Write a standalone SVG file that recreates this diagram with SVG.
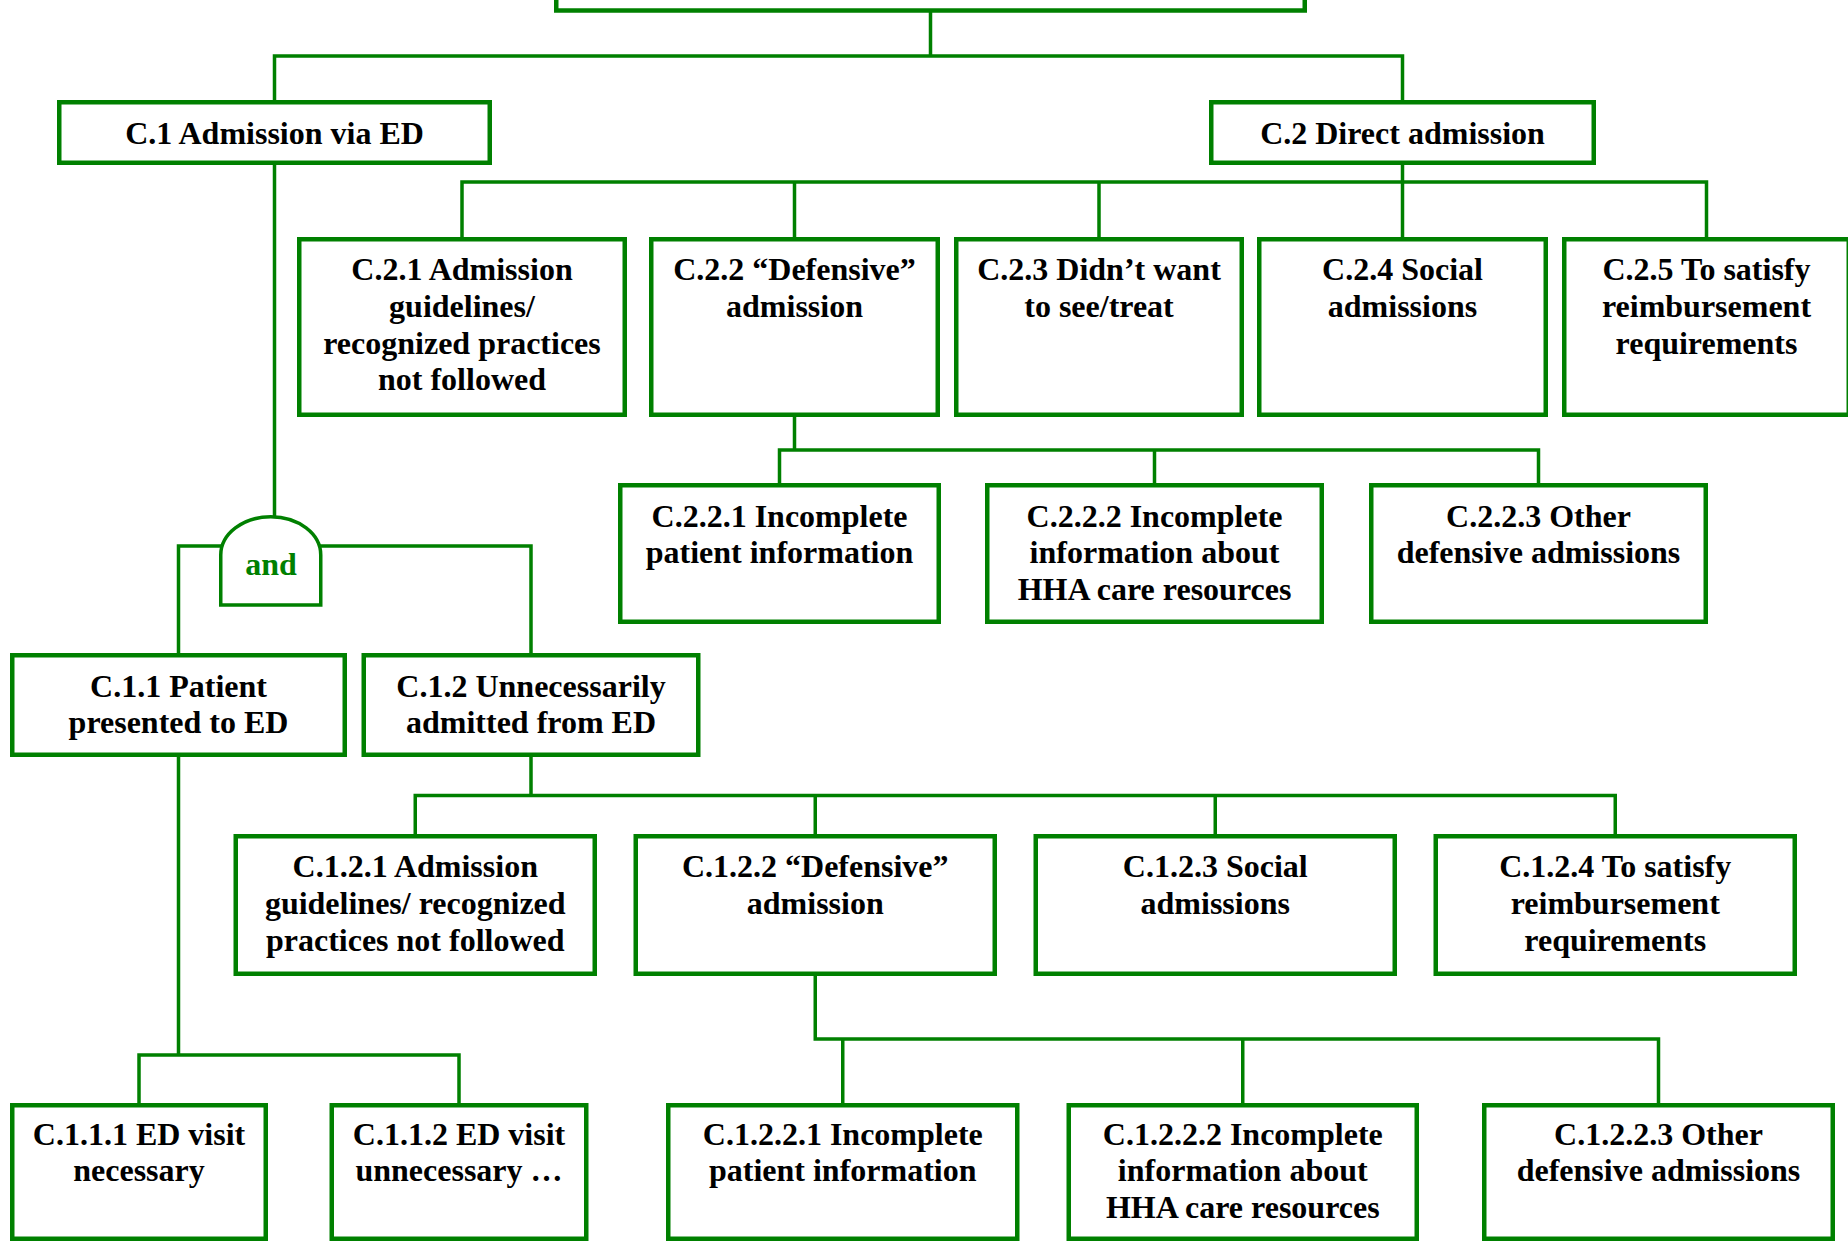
<svg xmlns="http://www.w3.org/2000/svg" width="1848" height="1241" viewBox="0 0 1848 1241">
  <style>
    .box { fill: #ffffff; stroke: #008000; stroke-width: 4.5; }
    .wire { fill: none; stroke: #008000; stroke-width: 3.5; }
    .gate { fill: #ffffff; stroke: #008000; stroke-width: 3.5; }
    text { font-family: "Liberation Serif", "Times New Roman", serif; font-weight: bold; font-size: 32px; text-anchor: middle; fill: #000000; }
    .gate-label { fill: #008000; }
  </style>
  <rect width="1848" height="1241" fill="#ffffff"/>

  <!-- connectors -->
  <g id="connectors" class="wire">
    <path d="M930.5 12 V56 M274.5 100 V56 H1402.5 V100"/>
    <path d="M1402.5 165 V237 M462 237 V182 H1706.5 V237 M794.5 182 V237 M1099 182 V237"/>
    <path d="M794.5 417 V450 M779.5 483 V450 H1538.5 V483 M1154.5 450 V483"/>
    <path d="M274.5 165 V516"/>
    <path d="M178.5 653 V546 H531 V653"/>
    <path d="M531 757 V795.5 M415.25 834 V795.5 H1615.25 V834 M815.25 795.5 V834 M1215.25 795.5 V834"/>
    <path d="M178.5 757 V1055 M139 1103 V1055 H459 V1103"/>
    <path d="M815.25 976 V1039 H1658.5 V1103 M842.75 1039 V1103 M1242.75 1039 V1103"/>
  </g>

  <!-- root (runs off the top edge) -->
  <g id="root">
    <rect class="box" x="556.25" y="-50" width="748.5" height="60.5"/>
  </g>

  <g id="c1">
    <rect class="box" x="59.25" y="102.25" width="430.5" height="60.5"/>
    <text x="274.5" y="144">C.1 Admission via ED</text>
  </g>
  <g id="c2">
    <rect class="box" x="1211.25" y="102.25" width="382.5" height="60.5"/>
    <text x="1402.5" y="144">C.2 Direct admission</text>
  </g>

  <!-- C.2 children -->
  <g id="c2-1">
    <rect class="box" x="299.25" y="239.25" width="325.5" height="175.5"/>
    <text x="462" y="280"><tspan x="462">C.2.1 Admission</tspan><tspan x="462" dy="36.8">guidelines/</tspan><tspan x="462" dy="36.8">recognized practices</tspan><tspan x="462" dy="36.8">not followed</tspan></text>
  </g>
  <g id="c2-2">
    <rect class="box" x="651.25" y="239.25" width="286.5" height="175.5"/>
    <text x="794.5" y="280"><tspan x="794.5">C.2.2 “Defensive”</tspan><tspan x="794.5" dy="36.8">admission</tspan></text>
  </g>
  <g id="c2-3">
    <rect class="box" x="956.25" y="239.25" width="285.5" height="175.5"/>
    <text x="1099" y="280"><tspan x="1099">C.2.3 Didn’t want</tspan><tspan x="1099" dy="36.8">to see/treat</tspan></text>
  </g>
  <g id="c2-4">
    <rect class="box" x="1259.25" y="239.25" width="286.5" height="175.5"/>
    <text x="1402.5" y="280"><tspan x="1402.5">C.2.4 Social</tspan><tspan x="1402.5" dy="36.8">admissions</tspan></text>
  </g>
  <g id="c2-5">
    <rect class="box" x="1564.25" y="239.25" width="284.5" height="175.5"/>
    <text x="1706.5" y="280"><tspan x="1706.5">C.2.5 To satisfy</tspan><tspan x="1706.5" dy="36.8">reimbursement</tspan><tspan x="1706.5" dy="36.8">requirements</tspan></text>
  </g>

  <!-- C.2.2 children -->
  <g id="c2-2-1">
    <rect class="box" x="620.25" y="485.25" width="318.5" height="136.5"/>
    <text x="779.5" y="526.5"><tspan x="779.5">C.2.2.1 Incomplete</tspan><tspan x="779.5" dy="36.8">patient information</tspan></text>
  </g>
  <g id="c2-2-2">
    <rect class="box" x="987.25" y="485.25" width="334.5" height="136.5"/>
    <text x="1154.5" y="526.5"><tspan x="1154.5">C.2.2.2 Incomplete</tspan><tspan x="1154.5" dy="36.8">information about</tspan><tspan x="1154.5" dy="36.8">HHA care resources</tspan></text>
  </g>
  <g id="c2-2-3">
    <rect class="box" x="1371.25" y="485.25" width="334.5" height="136.5"/>
    <text x="1538.5" y="526.5"><tspan x="1538.5">C.2.2.3 Other</tspan><tspan x="1538.5" dy="36.8">defensive admissions</tspan></text>
  </g>

  <!-- AND gate under C.1 -->
  <g id="and-gate">
    <path class="gate" d="M220.75 605 V555 A50 38.25 0 0 1 320.75 555 V605 Z"/>
    <text class="gate-label" x="271" y="575">and</text>
  </g>

  <g id="c1-1">
    <rect class="box" x="12.25" y="655.25" width="332.5" height="99.5"/>
    <text x="178.5" y="696.5"><tspan x="178.5">C.1.1 Patient</tspan><tspan x="178.5" dy="36.8">presented to ED</tspan></text>
  </g>
  <g id="c1-2">
    <rect class="box" x="363.75" y="655.25" width="334.5" height="99.5"/>
    <text x="531" y="696.5"><tspan x="531">C.1.2 Unnecessarily</tspan><tspan x="531" dy="36.8">admitted from ED</tspan></text>
  </g>

  <!-- C.1.2 children -->
  <g id="c1-2-1">
    <rect class="box" x="235.75" y="836.25" width="359" height="137.5"/>
    <text x="415.25" y="877"><tspan x="415.25">C.1.2.1 Admission</tspan><tspan x="415.25" dy="36.8">guidelines/ recognized</tspan><tspan x="415.25" dy="36.8">practices not followed</tspan></text>
  </g>
  <g id="c1-2-2">
    <rect class="box" x="635.75" y="836.25" width="359" height="137.5"/>
    <text x="815.25" y="877"><tspan x="815.25">C.1.2.2 “Defensive”</tspan><tspan x="815.25" dy="36.8">admission</tspan></text>
  </g>
  <g id="c1-2-3">
    <rect class="box" x="1035.75" y="836.25" width="359" height="137.5"/>
    <text x="1215.25" y="877"><tspan x="1215.25">C.1.2.3 Social</tspan><tspan x="1215.25" dy="36.8">admissions</tspan></text>
  </g>
  <g id="c1-2-4">
    <rect class="box" x="1435.75" y="836.25" width="359" height="137.5"/>
    <text x="1615.25" y="877"><tspan x="1615.25">C.1.2.4 To satisfy</tspan><tspan x="1615.25" dy="36.8">reimbursement</tspan><tspan x="1615.25" dy="36.8">requirements</tspan></text>
  </g>

  <!-- bottom row -->
  <g id="c1-1-1">
    <rect class="box" x="12.25" y="1105.25" width="253.5" height="133.5"/>
    <text x="139" y="1144.5"><tspan x="139">C.1.1.1 ED visit</tspan><tspan x="139" dy="36.8">necessary</tspan></text>
  </g>
  <g id="c1-1-2">
    <rect class="box" x="331.75" y="1105.25" width="254.5" height="133.5"/>
    <text x="459" y="1144.5"><tspan x="459">C.1.1.2 ED visit</tspan><tspan x="459" dy="36.8">unnecessary …</tspan></text>
  </g>
  <g id="c1-2-2-1">
    <rect class="box" x="668.25" y="1105.25" width="349" height="133.5"/>
    <text x="842.75" y="1144.5"><tspan x="842.75">C.1.2.2.1 Incomplete</tspan><tspan x="842.75" dy="36.8">patient information</tspan></text>
  </g>
  <g id="c1-2-2-2">
    <rect class="box" x="1068.75" y="1105.25" width="348" height="133.5"/>
    <text x="1242.75" y="1144.5"><tspan x="1242.75">C.1.2.2.2 Incomplete</tspan><tspan x="1242.75" dy="36.8">information about</tspan><tspan x="1242.75" dy="36.8">HHA care resources</tspan></text>
  </g>
  <g id="c1-2-2-3">
    <rect class="box" x="1484.25" y="1105.25" width="348.5" height="133.5"/>
    <text x="1658.5" y="1144.5"><tspan x="1658.5">C.1.2.2.3 Other</tspan><tspan x="1658.5" dy="36.8">defensive admissions</tspan></text>
  </g>
</svg>
